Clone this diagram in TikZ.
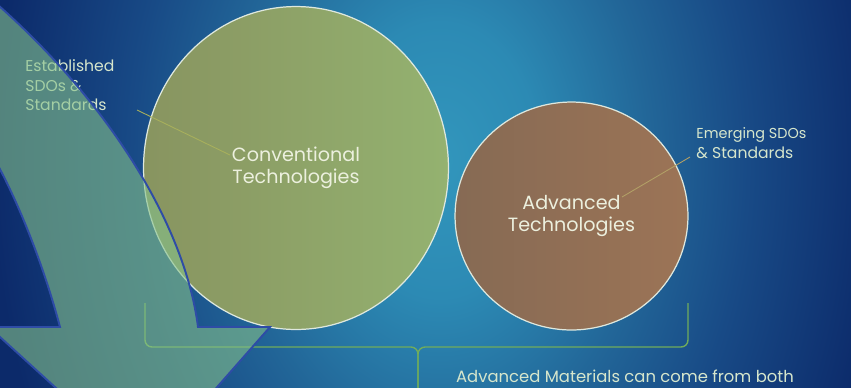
\documentclass[tikz,border=0pt]{standalone}
\usepackage{fontspec}
\setmainfont{Poppins}
\usetikzlibrary{shapes.geometric}

\definecolor{bgin}{RGB}{50,150,188}
\definecolor{bgnear}{RGB}{44,138,180}
\definecolor{bgmid}{RGB}{34,102,152}
\definecolor{bgdark}{RGB}{24,74,134}
\definecolor{bgedge}{RGB}{12,42,106}
\definecolor{bgcorner}{RGB}{10,36,100}
\definecolor{convleft}{RGB}{136,148,96}
\definecolor{convright}{RGB}{148,178,112}
\definecolor{advleft}{RGB}{134,106,84}
\definecolor{advright}{RGB}{156,116,86}
\definecolor{ringwhite}{RGB}{222,232,222}
\definecolor{labelgreen}{RGB}{214,230,204}
\definecolor{techtext}{RGB}{236,240,222}
\definecolor{estline}{RGB}{168,176,92}
\definecolor{emline}{RGB}{178,160,102}
\definecolor{bracegreen}{RGB}{112,172,92}
\definecolor{arrowfill}{RGB}{132,192,138}
\definecolor{arrowblue}{RGB}{46,76,166}

\pgfdeclareradialshading{bgglow}{\pgfpoint{0bp}{0bp}}{color(0bp)=(bgin); color(3.5bp)=(bgnear); color(7.5bp)=(bgmid); color(11bp)=(bgdark); color(16bp)=(bgedge); color(25bp)=(bgcorner); color(50bp)=(bgcorner)}

\begin{document}
\begin{tikzpicture}[x=0.02cm,y=-0.02cm]
        \tikzstyle{tech}=[ellipse,draw=ringwhite,line width=0.7pt,inner sep=0pt,text=techtext,align=center,font=\fontsize{10.9}{12.6}\selectfont]
        \tikzstyle{label}=[text=labelgreen,align=left,inner sep=0pt,font=\fontsize{8.9}{11.3}\selectfont]
        \tikzstyle{leader}=[line width=0.5pt]
        \tikzstyle{brace}=[draw=bracegreen,line width=0.8pt,rounded corners=4pt]

       \useasboundingbox (0,0) rectangle (851,387);
       \begin{scope}
         \clip (0,0) rectangle (851,387);
         \shade[shading=bgglow] (440,160) ellipse [x radius=14cm,y radius=19.6cm];

         % brace under both circles
         \coordinate (bl) at (145,303);
         \coordinate (br) at (688,303);
         \coordinate (bm) at (418,347);
         \coordinate (bt) at (418,400);
         \draw[brace] (bl) |- (bm) -- (bt);
         \draw[brace] (br) |- (bm) -- (bt);

         \node [tech,left color=convleft,right color=convright,minimum width=6.1cm,minimum height=6.46cm] (conv) at (296,168) {Conventional\\Technologies};
         \node [tech,left color=advleft,right color=advright,minimum width=4.66cm,minimum height=4.56cm] (adv) at (571.5,216) {Advanced\\Technologies};

         \node [label,anchor=north west] (est) at (25,59) {Established\\SDOs \&\\Standards};
         \node [label,anchor=west] (emg) at (696,143) {\fontsize{8.2}{11.3}\selectfont Emerging SDOs\\\& Standards};
         \node [text=labelgreen,font=\fontsize{9.35}{12}\selectfont,anchor=base] (both) at (625,382) {Advanced Materials can come from both};

         \coordinate (estfoot) at (137,110);
         \coordinate (convtip) at (230,155);
         \coordinate (emgfoot) at (690,157);
         \coordinate (advtip) at (622,197);
         \draw[leader,estline] (estfoot) -- (convtip);
         \draw[leader,emline] (emgfoot) -- (advtip);

         % big curved arrow
         \path[draw=arrowblue,line width=1.1pt,fill=arrowfill,fill opacity=0.6]
           (-10,-2) .. controls (108,100) and (185,225) .. (198,327) -- (270,327)
           -- (145,469) -- (-11,327) -- (60,327)
           .. controls (45,270) and (20,205) .. (-5,160) -- (-30,120) -- (-30,-20) -- cycle;
       \end{scope}
      \end{tikzpicture}
\end{document}
